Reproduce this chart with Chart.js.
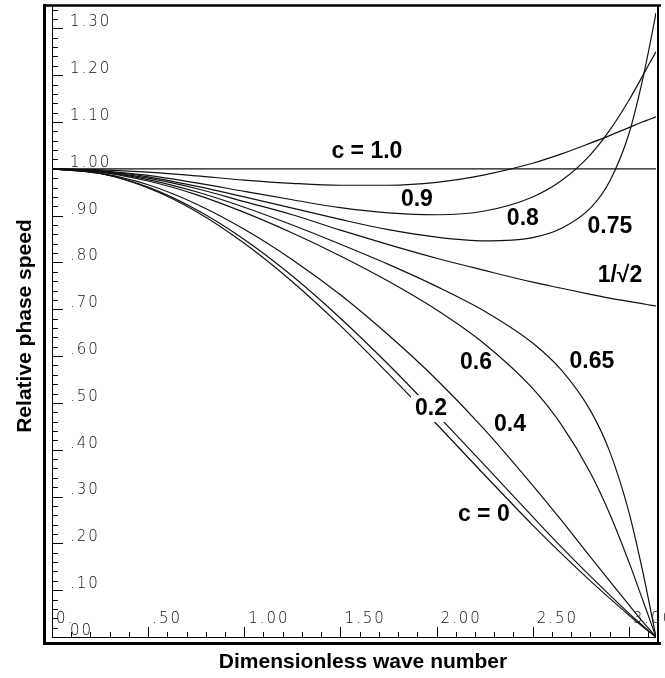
<!DOCTYPE html>
<html>
<head>
<meta charset="utf-8">
<script src="https://cdn.jsdelivr.net/npm/chart.js"></script>
<style>
  html, body { margin: 0; padding: 0; background: #fff; }
  #wrap { width: 665px; height: 678px; }
</style>
</head>
<body>
<div id="wrap"><canvas id="c" width="665" height="678"></canvas></div>
<script>
// ---- data ----
const waveNumber = [0, 0.25, 0.5, 0.75, 1.0, 1.25, 1.5, 1.75, 2.0, 2.25, 2.5, 2.65, 2.8, 2.9, 3.0, 3.07, 3.11, 3.1416];

const c00  = [1, 0.990, 0.959, 0.909, 0.841, 0.759, 0.665, 0.562, 0.455, 0.346, 0.239, 0.178, 0.120, 0.083, 0.047, 0.023, 0.010, 0];
const c02  = [1, 0.990, 0.961, 0.913, 0.849, 0.771, 0.681, 0.582, 0.476, 0.367, 0.257, 0.192, 0.130, 0.090, 0.051, 0.025, 0.011, 0];
const c04  = [1, 0.991, 0.966, 0.925, 0.871, 0.806, 0.731, 0.645, 0.550, 0.443, 0.324, 0.249, 0.171, 0.120, 0.069, 0.034, 0.015, 0];
const c06  = [1, 0.993, 0.974, 0.945, 0.907, 0.863, 0.814, 0.760, 0.699, 0.626, 0.531, 0.453, 0.351, 0.264, 0.161, 0.082, 0.036, 0];
const c065 = [1, 0.994, 0.977, 0.951, 0.918, 0.880, 0.839, 0.796, 0.749, 0.696, 0.628, 0.570, 0.484, 0.397, 0.268, 0.145, 0.065, 0];
const cRt2 = [1, 0.995, 0.980, 0.958, 0.930, 0.902, 0.869, 0.838, 0.809, 0.783, 0.758, 0.745, 0.732, 0.724, 0.717, 0.712, 0.709, 0.707];
const c075 = [1, 0.996, 0.983, 0.963, 0.940, 0.916, 0.892, 0.870, 0.854, 0.846, 0.853, 0.873, 0.916, 0.973, 1.074, 1.187, 1.266, 1.333];
const c08  = [1, 0.996, 0.986, 0.970, 0.952, 0.934, 0.917, 0.906, 0.902, 0.910, 0.940, 0.975, 1.030, 1.082, 1.146, 1.197, 1.227, 1.250];
const c09  = [1, 0.998, 0.993, 0.985, 0.976, 0.969, 0.965, 0.965, 0.971, 0.987, 1.012, 1.032, 1.055, 1.071, 1.088, 1.100, 1.106, 1.111];
const c10  = [1, 1, 1, 1, 1, 1, 1, 1, 1, 1, 1, 1, 1, 1, 1, 1, 1, 1];

const seriesNames  = ["c = 0", "0.2", "0.4", "0.6", "0.65", "1/\u221A2", "0.75", "0.8", "0.9", "c = 1.0"];
const seriesValues = [c00, c02, c04, c06, c065, cRt2, c075, c08, c09, c10];

// curve label anchors (data coordinates: wave number, phase speed)
const labelK = [2.246, 1.971, 2.382, 2.205, 2.808, 2.954, 2.902, 2.449, 1.898, 1.638];
const labelV = [0.263, 0.489, 0.455, 0.588, 0.590, 0.774, 0.878, 0.895, 0.936, 1.038];
const labelMasks = [false, true, false, false, false, false, false, false, false, false];

const xTickValues = [0, 0.5, 1.0, 1.5, 2.0, 2.5, 3.0];
const xTickLabels = ["0.", ".50", "1.00", "1.50", "2.00", "2.50", "3.00"];
const yTickValues = [0, 0.1, 0.2, 0.3, 0.4, 0.5, 0.6, 0.7, 0.8, 0.9, 1.0, 1.1, 1.2, 1.3];
const yTickLabels = ["00", ".10", ".20", ".30", ".40", ".50", ".60", ".70", ".80", ".90", "1.00", "1.10", "1.20", "1.30"];

const xTitle = "Dimensionless wave number";
const yTitle = "Relative phase speed";

// ---- chart ----
const datasets = seriesValues.map((vals, i) => ({
  label: seriesNames[i],
  data: waveNumber.map((k, j) => ({ x: k, y: vals[j] })),
  borderColor: '#111',
  borderWidth: 1.2,
  pointRadius: 0,
  fill: false,
  cubicInterpolationMode: 'monotone'
}));

const framePlugin = {
  id: 'frame',
  beforeDatasetsDraw(chart) {
    const ctx = chart.ctx, xs = chart.scales.x, ys = chart.scales.y;
    const X = v => xs.getPixelForValue(v), Y = v => ys.getPixelForValue(v);
    const x0 = X(0), y0 = Y(0), xr = X(Math.PI), yt = Y(1.35);
    ctx.save();
    ctx.strokeStyle = '#000';
    ctx.lineCap = 'butt';
    // outer frame
    ctx.lineWidth = 3;
    ctx.beginPath(); ctx.moveTo(44.5, 4); ctx.lineTo(44.5, 645); ctx.stroke();
    ctx.beginPath(); ctx.moveTo(43, 643.5); ctx.lineTo(661, 643.5); ctx.stroke();
    ctx.lineWidth = 2.5;
    ctx.beginPath(); ctx.moveTo(43, 5.5); ctx.lineTo(661, 5.5); ctx.stroke();
    ctx.lineWidth = 2;
    ctx.beginPath(); ctx.moveTo(658, 5); ctx.lineTo(658, 644); ctx.stroke();
    // inner axes
    ctx.lineWidth = 1;
    ctx.beginPath(); ctx.moveTo(x0 + 0.5, y0); ctx.lineTo(x0 + 0.5, yt); ctx.stroke();
    ctx.beginPath(); ctx.moveTo(x0, y0 + 0.5); ctx.lineTo(xr, y0 + 0.5); ctx.stroke();
    // y ticks
    for (let i = 0; i <= 67; i++) {
      const py = Math.round(Y(i * 0.02)) + 0.5;
      const len = (i % 5 === 0) ? 11 : 6;
      ctx.beginPath(); ctx.moveTo(x0, py); ctx.lineTo(x0 + len, py); ctx.stroke();
    }
    // x ticks
    for (let i = 0; i <= 31; i++) {
      const px = Math.round(X(i * 0.1)) + 0.5;
      const len = (i % 5 === 0) ? 10 : 5;
      ctx.beginPath(); ctx.moveTo(px, y0); ctx.lineTo(px, y0 - len); ctx.stroke();
    }
    // tick labels
    ctx.fillStyle = '#111';
    ctx.font = '300 15px "DejaVu Sans", sans-serif';
    ctx.letterSpacing = '2px';
    ctx.textAlign = 'left';
    ctx.textBaseline = 'middle';
    yTickValues.forEach((v, i) => ctx.fillText(yTickLabels[i], 70, Y(v) - 6));
    xTickValues.forEach((v, i) => ctx.fillText(xTickLabels[i], X(v) + 4, y0 - 18));
    ctx.letterSpacing = '0px';
    // axis titles
    ctx.fillStyle = '#000';
    ctx.font = 'bold 21px "Liberation Sans", Arial, sans-serif';
    ctx.textAlign = 'center';
    ctx.fillText(xTitle, 363, 662);
    ctx.save();
    ctx.translate(25, 326);
    ctx.rotate(-Math.PI / 2);
    ctx.fillText(yTitle, 0, 0);
    ctx.restore();
    ctx.restore();
  },
  afterDatasetsDraw(chart) {
    const ctx = chart.ctx, xs = chart.scales.x, ys = chart.scales.y;
    ctx.save();
    ctx.font = 'bold 23px "Liberation Sans", Arial, sans-serif';
    ctx.textAlign = 'center';
    ctx.textBaseline = 'middle';
    seriesNames.forEach((name, i) => {
      const px = xs.getPixelForValue(labelK[i]);
      const py = ys.getPixelForValue(labelV[i]);
      if (labelMasks[i]) {
        const w = ctx.measureText(name).width;
        ctx.fillStyle = '#fff';
        ctx.fillRect(px - w / 2 - 4, py - 13, w + 8, 27);
      }
      ctx.fillStyle = '#000';
      ctx.fillText(name, px, py + 1);
    });
    ctx.restore();
  }
};

new Chart(document.getElementById('c'), {
  type: 'line',
  data: { datasets },
  options: {
    responsive: false,
    animation: false,
    devicePixelRatio: 1,
    layout: { padding: { left: 52, right: 9, top: 5, bottom: 41 } },
    plugins: { legend: { display: false }, tooltip: { enabled: false } },
    scales: {
      x: { type: 'linear', min: 0, max: Math.PI, display: false },
      y: { type: 'linear', min: 0, max: 1.35, display: false }
    }
  },
  plugins: [framePlugin]
});
</script>
</body>
</html>
